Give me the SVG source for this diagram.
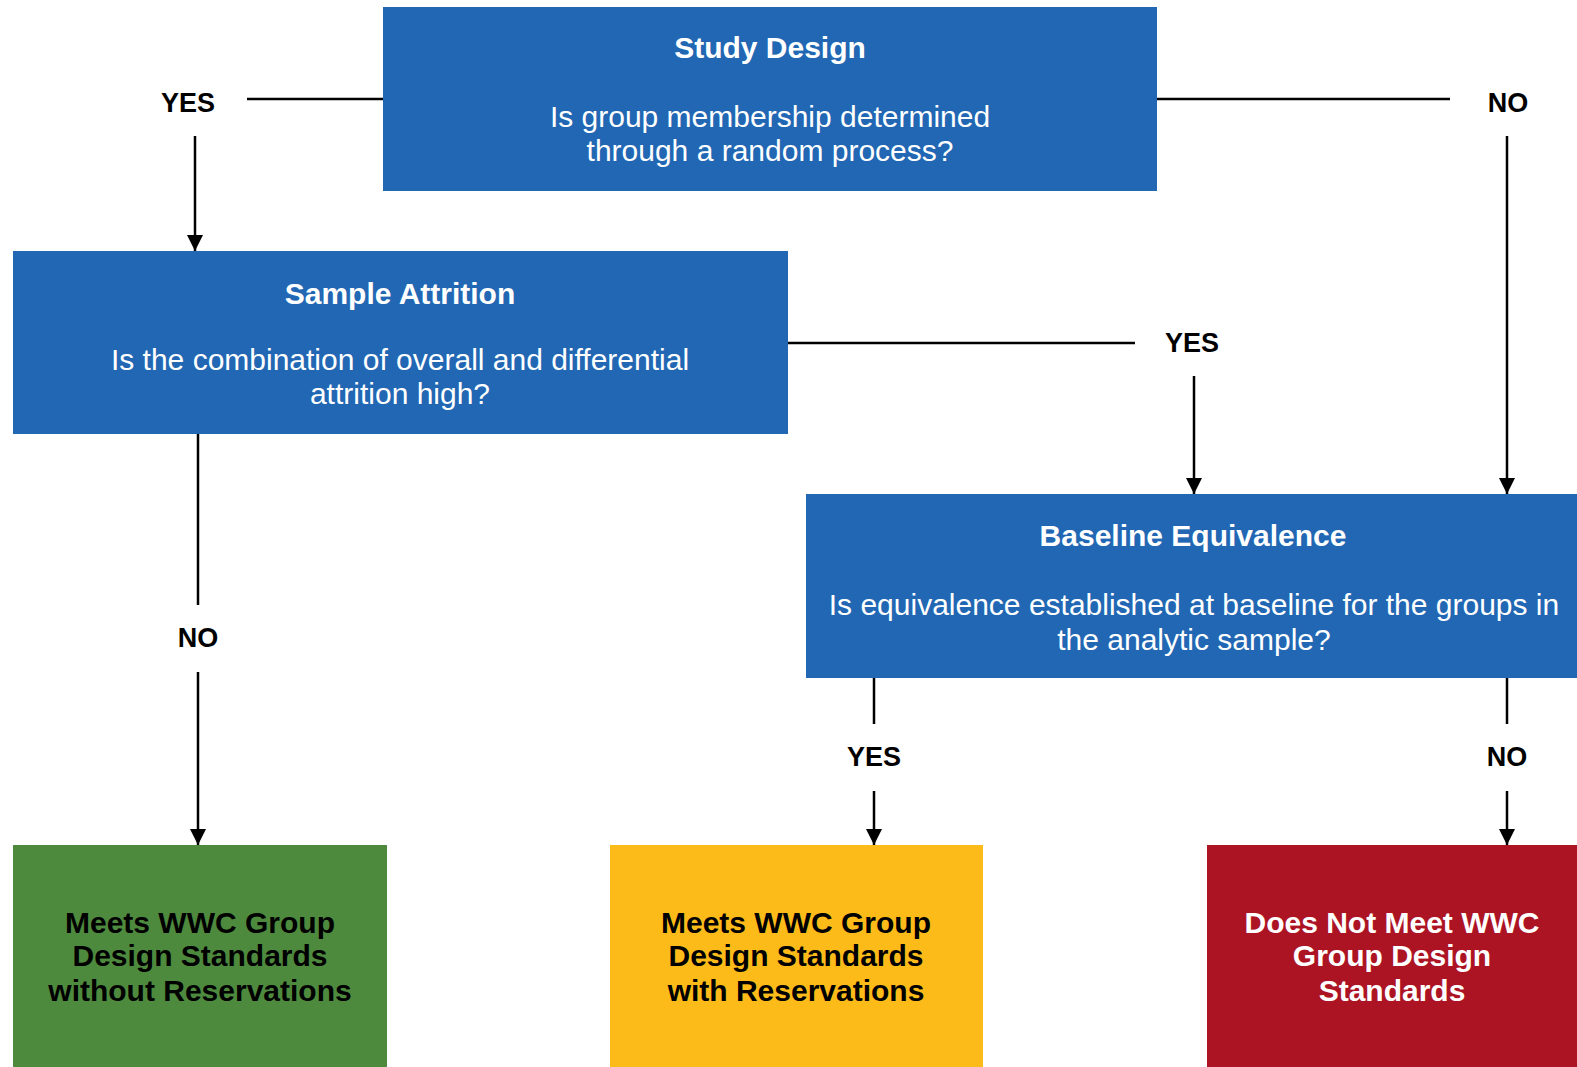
<svg xmlns="http://www.w3.org/2000/svg" width="1577" height="1067" viewBox="0 0 1577 1067">
<defs>
<marker id="ah" markerUnits="userSpaceOnUse" markerWidth="16" markerHeight="16" refX="16" refY="8" orient="auto">
<path d="M0,0 L16,8 L0,16 z" fill="#000"/>
</marker>
<style>
.blue{fill:#2167b4}
.t{font-family:"Liberation Sans",Arial,sans-serif;text-anchor:middle}
.h{font-weight:bold;font-size:30px;fill:#fff}
.q{font-size:30px;fill:#fff}
.lab{font-family:"Liberation Sans",Arial,sans-serif;font-weight:bold;font-size:27px;fill:#000;text-anchor:middle}
.out{font-weight:bold;font-size:30px}
.c{stroke:#000;stroke-width:2.5;fill:none}
.a{marker-end:url(#ah)}
</style>
</defs>
<rect width="1577" height="1067" fill="#fff"/>
<g id="connectors">
<line class="c" x1="247" y1="99" x2="383" y2="99"/>
<line class="c a" x1="195" y1="136" x2="195" y2="251"/>
<line class="c" x1="1157" y1="99" x2="1450" y2="99"/>
<line class="c a" x1="1507" y1="136" x2="1507" y2="494"/>
<line class="c" x1="788" y1="343" x2="1135" y2="343"/>
<line class="c a" x1="1194" y1="376" x2="1194" y2="494"/>
<line class="c" x1="198" y1="434" x2="198" y2="605"/>
<line class="c a" x1="198" y1="672" x2="198" y2="845"/>
<line class="c" x1="874" y1="678" x2="874" y2="724"/>
<line class="c a" x1="874" y1="791" x2="874" y2="845"/>
<line class="c" x1="1507" y1="678" x2="1507" y2="724"/>
<line class="c a" x1="1507" y1="791" x2="1507" y2="845"/>
<text class="lab" x="188" y="112">YES</text>
<text class="lab" x="1508" y="112">NO</text>
<text class="lab" x="1192" y="352">YES</text>
<text class="lab" x="198" y="647">NO</text>
<text class="lab" x="874" y="766">YES</text>
<text class="lab" x="1507" y="766">NO</text>
</g>
<g id="study-design">
<rect class="blue" x="383" y="7" width="774" height="184"/>
<text class="t h" x="770" y="58">Study Design</text>
<text class="t q" x="770" y="127">Is group membership determined</text>
<text class="t q" x="770" y="161">through a random process?</text>
</g>
<g id="sample-attrition">
<rect class="blue" x="13" y="251" width="775" height="183"/>
<text class="t h" x="400" y="304">Sample Attrition</text>
<text class="t q" x="400" y="370">Is the combination of overall and differential</text>
<text class="t q" x="400" y="404">attrition high?</text>
</g>
<g id="baseline-equivalence">
<rect class="blue" x="806" y="494" width="771" height="184"/>
<text class="t h" x="1193" y="546">Baseline Equivalence</text>
<text class="t q" x="1194" y="615">Is equivalence established at baseline for the groups in</text>
<text class="t q" x="1194" y="650">the analytic sample?</text>
</g>
<g id="meets-without">
<rect x="13" y="845" width="374" height="222" fill="#4e8a3e"/>
<text class="t out" x="200" y="933" fill="#000">Meets WWC Group</text>
<text class="t out" x="200" y="966" fill="#000">Design Standards</text>
<text class="t out" x="200" y="1001" fill="#000">without Reservations</text>
</g>
<g id="meets-with">
<rect x="610" y="845" width="373" height="222" fill="#fdbb1a"/>
<text class="t out" x="796" y="933" fill="#000">Meets WWC Group</text>
<text class="t out" x="796" y="966" fill="#000">Design Standards</text>
<text class="t out" x="796" y="1001" fill="#000">with Reservations</text>
</g>
<g id="does-not-meet">
<rect x="1207" y="845" width="370" height="222" fill="#ac1424"/>
<text class="t out" x="1392" y="933" fill="#fff">Does Not Meet WWC</text>
<text class="t out" x="1392" y="966" fill="#fff">Group Design</text>
<text class="t out" x="1392" y="1001" fill="#fff">Standards</text>
</g>
</svg>
